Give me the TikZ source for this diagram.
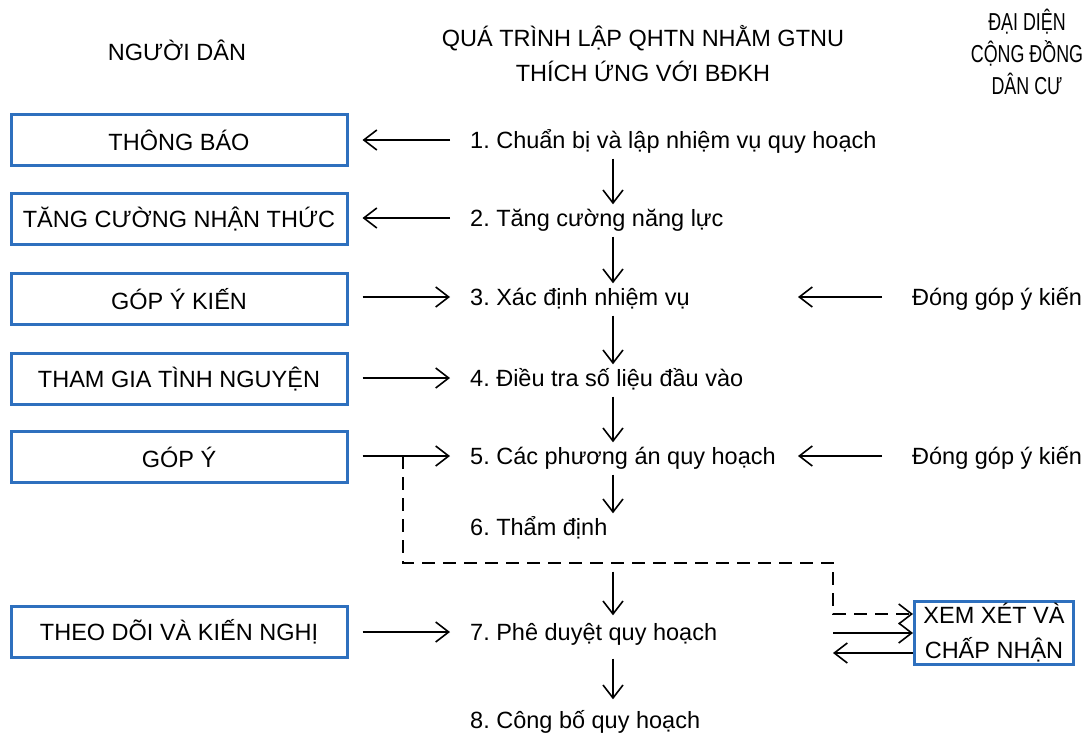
\documentclass[tikz,border=0pt]{standalone}
\usepackage{fontspec}
\setmainfont{Liberation Sans}
\newfontfamily\narrowsans[FakeStretch=0.73]{Liberation Sans}
\usetikzlibrary{arrows.meta}
\definecolor{boxblue}{RGB}{46,112,190}
\frenchspacing
\begin{document}
\begin{tikzpicture}[x=1pt,y=-1pt,
  every node/.style={font=\fontsize{23.5}{28}\selectfont},
  lbox/.style={draw=boxblue,line width=3pt,minimum width=336pt,minimum height=51pt,inner sep=0pt},
  stepnode/.style={anchor=west,inner sep=0pt,text height=17pt,text depth=0pt},
  arr/.style={-{Straight Barb[length=13pt,width=20pt]},line width=1.6pt},
  dasharr/.style={arr,dash pattern=on 13pt off 8pt},
  lr/.style={arr,shorten <=14pt,shorten >=20pt},
  rl/.style={arr,shorten <=20pt,shorten >=14pt},
  down/.style={arr,shorten <=10pt,shorten >=5pt}
]
\useasboundingbox (0,0) rectangle (1088,736);

% column headings
\node (h1) at (177,50) {NGƯỜI DÂN};
\node[align=center,font=\fontsize{23.5}{35}\selectfont] (h2) at (643,53.5)
  {QUÁ TRÌNH LẬP QHTN NHẰM GTNU\\THÍCH ỨNG VỚI BĐKH};
\node[align=center,font=\narrowsans\fontsize{24.5}{32}\selectfont] (h3) at (1027,52)
  {ĐẠI DIỆN\\CỘNG ĐỒNG\\DÂN CƯ};

% residents' actions
\node[lbox] (b1) at (179,140) {THÔNG BÁO};
\node[lbox] (b2) at (179,219) {TĂNG CƯỜNG NHẬN THỨC};
\node[lbox] (b3) at (179,299) {GÓP Ý KIẾN};
\node[lbox] (b4) at (179,379) {THAM GIA TÌNH NGUYỆN};
\node[lbox] (b5) at (179,457) {GÓP Ý};
\node[lbox] (b6) at (179,632) {THEO DÕI VÀ KIẾN NGHỊ};

% planning steps
\node[stepnode] (s1) at (470,140) {1. Chuẩn bị và lập nhiệm vụ quy hoạch};
\node[stepnode] (s2) at (470,218) {2. Tăng cường năng lực};
\node[stepnode] (s3) at (470,297) {3. Xác định nhiệm vụ};
\node[stepnode] (s4) at (470,378) {4. Điều tra số liệu đầu vào};
\node[stepnode] (s5) at (470,456) {5. Các phương án quy hoạch};
\node[stepnode] (s6) at (470,527) {6. Thẩm định};
\node[stepnode] (s7) at (470,632) {7. Phê duyệt quy hoạch};
\node[stepnode] (s8) at (470,720) {8. Công bố quy hoạch};

% community representatives
\node[stepnode] (r3) at (912,297) {Đóng góp ý kiến};
\node[stepnode] (r5) at (912,456) {Đóng góp ý kiến};
\node[lbox,minimum width=159pt,minimum height=63pt,align=center,
  font=\fontsize{23.5}{35}\selectfont] (xem) at (994,633) {XEM XÉT VÀ\\CHẤP NHẬN};

% helper coordinates
\coordinate (col) at (613,0);
\coordinate (tipR) at (798,0);
\coordinate (fork) at (403,456);
\coordinate (bend) at (833,563);

% main sequence
\draw[down] (s1.south -| col) -- (s2.north -| col);
\draw[down] (s2.south -| col) -- (s3.north -| col);
\draw[down] (s3.south -| col) -- (s4.north -| col);
\draw[down] (s4.south -| col) -- (s5.north -| col);
\draw[down] (s5.south -| col) -- (s6.north -| col);
\draw[arr,shorten <=36pt,shorten >=8pt] (s6.south -| col) -- (s7.north -| col);
\draw[down,shorten <=18pt,shorten >=12pt] (s7.south -| col) -- (s8.north -| col);

% links with residents
\draw[rl] (s1.west) -- (b1.east |- s1.west);
\draw[rl] (s2.west) -- (b2.east |- s2.west);
\draw[lr] (b3.east |- s3.west) -- (s3.west);
\draw[lr] (b4.east |- s4.west) -- (s4.west);
\draw[lr] (b5.east |- s5.west) -- (s5.west);
\draw[lr] (b6.east |- s7.west) -- (s7.west);

% links with representatives
\draw[arr,shorten <=30pt] (r3.west) -- (r3.west -| tipR);
\draw[arr,shorten <=30pt] (r5.west) -- (r5.west -| tipR);
\draw[dasharr] (fork) |- (bend) |- ([yshift=19pt]xem.west);
\draw[arr] (xem.west -| bend) -- (xem.west);
\draw[arr] ([yshift=-20pt]xem.west) -- ([yshift=-20pt]xem.west -| bend);
\end{tikzpicture}
\end{document}
